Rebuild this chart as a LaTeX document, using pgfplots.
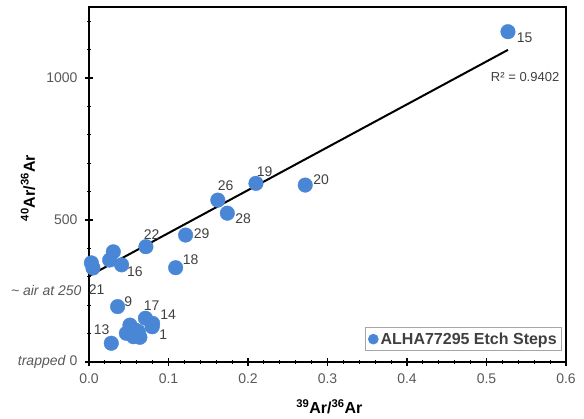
\documentclass[border=0pt]{standalone}
\usepackage{fontspec}
\setmainfont{Liberation Sans}
\usepackage{pgfplots}
\pgfplotsset{compat=1.18}
\definecolor{pt}{RGB}{74,134,214}
\definecolor{tk}{RGB}{89,89,89}
\definecolor{lb}{RGB}{64,64,64}
\begin{document}
\begin{tikzpicture}
\path[use as bounding box] (-89pt,-57pt) rectangle (495pt,362pt);
\begin{axis}[
  at={(0pt,0pt)}, anchor=south west,
  scale only axis, width=477pt, height=355pt,
  xmin=0, xmax=0.6, ymin=0, ymax=1250,
  clip=false,
  axis line style={black, line width=1.3pt},
  xtick={0,0.1,0.2,0.3,0.4,0.5,0.6},
  xticklabels={0.0,0.1,0.2,0.3,0.4,0.5,0.6},
  minor x tick num=4,
  ytick={0,500,1000},
  yticklabels={{\textit{trapped} 0},500,1000},
  minor ytick={100,200,300,400,600,700,800,900,1100,1200},
  extra y ticks={250},
  extra y tick labels={\textit{\textasciitilde{} air at 250}},
  extra y tick style={major tick length=0pt},
  xtick pos=bottom, ytick pos=left,
  tick align=center,
  major tick length=8pt, minor tick length=4pt,
  tick style={black, line width=1.1pt},
  ticklabel style={font=\fontsize{14}{16}\selectfont, text=tk},
  yticklabel style={xshift=-4pt},
  xticklabel style={yshift=-4pt},
  xlabel={\textsuperscript{39}Ar/\textsuperscript{36}Ar},
  ylabel={\textsuperscript{40}Ar/\textsuperscript{36}Ar},
  xlabel style={font=\bfseries\fontsize{16}{18}\selectfont, at={(axis description cs:0.504,-0.127)}, anchor=center},
  ylabel style={font=\bfseries\fontsize{16}{18}\selectfont, at={(axis description cs:-0.128,0.49)}, anchor=center},
  legend style={at={(rel axis cs:1,0)}, anchor=south east, xshift=-4pt, yshift=11pt,
    draw=gray!70, line width=0.6pt, font=\bfseries\fontsize{16}{18}\selectfont, text=lb,
    inner xsep=3pt, inner ysep=3pt},
  legend image code/.code={\fill[pt] (0.25em,0pt) circle (5pt);},
  legend cell align=left,
]
\addplot[black, line width=2pt, forget plot] coordinates {(0,303) (0.527,1099)};
\addplot[only marks, mark=*, mark size=7.3pt, color=pt, mark options={fill=pt, draw=pt}] coordinates {
  (0.527,1163) (0.210,629) (0.272,623) (0.162,570) (0.174,524)
  (0.1215,447) (0.0716,406) (0.109,332) (0.041,342)
  (0.0306,388) (0.026,359) (0.003,349) (0.005,331)
  (0.036,195) (0.028,66) (0.071,154) (0.080,136) (0.0795,124)
  (0.0515,130) (0.047,101) (0.058,113) (0.064,87) (0.056,89) (0.062,107)
};
\addlegendentry{ALHA77295 Etch Steps}
\begin{scope}[every node/.style={font=\fontsize{14}{16}\selectfont, text=lb, anchor=center, inner sep=0pt}]
\node at (axis cs:0.548,1141) {15};
\node at (axis cs:0.221,669) {19};
\node at (axis cs:0.292,641) {20};
\node at (axis cs:0.172,620) {26};
\node at (axis cs:0.194,506) {28};
\node at (axis cs:0.1416,451) {29};
\node at (axis cs:0.1278,359) {18};
\node at (axis cs:0.0788,447) {22};
\node at (axis cs:0.0578,318) {16};
\node at (axis cs:0.0097,254) {21};
\node at (axis cs:0.0494,212) {9};
\node at (axis cs:0.0788,197) {17};
\node at (axis cs:0.0996,165) {14};
\node at (axis cs:0.0933,95) {1};
\node at (axis cs:0.016,113) {13};
\node[font=\fontsize{13}{15}\selectfont] at (axis cs:0.5486,1002) {R² = 0.9402};
\end{scope}
\end{axis}
\end{tikzpicture}
\end{document}
